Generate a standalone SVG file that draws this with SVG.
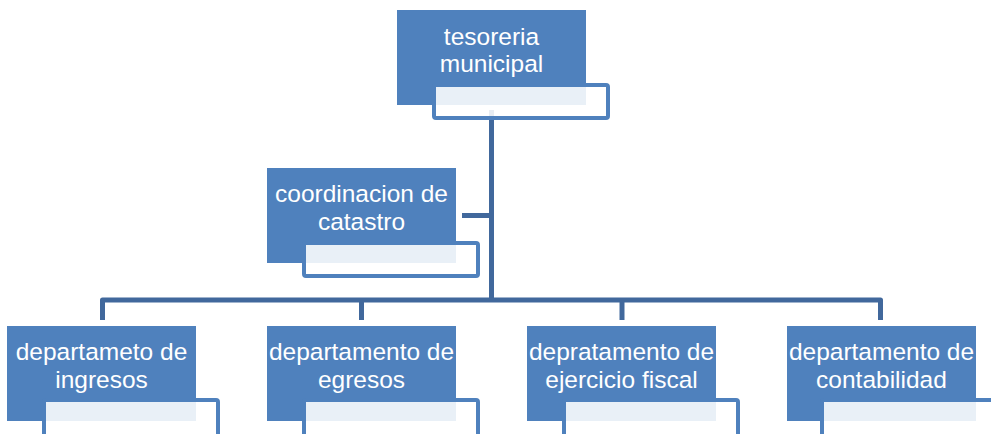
<svg xmlns="http://www.w3.org/2000/svg" width="991" height="434" viewBox="0 0 991 434">
<style>
.box{fill:#4F81BD}
.sub{fill:#FFFFFF;fill-opacity:0.88;stroke:#4F81BD;stroke-width:4}
.lbl{fill:#FFFFFF;font-family:"Liberation Sans",Arial,sans-serif;font-size:24.5px;text-anchor:middle}
.conn{fill:none;stroke:#41689C;stroke-width:5;stroke-linejoin:round}
</style>
<rect width="991" height="434" fill="#FFFFFF"/>
<g id="connectors">
<path class="conn" d="M491.5,110 V300"/>
<path class="conn" d="M462,215.5 H491.5"/>
<path class="conn" d="M102.5,320 V300 H880.5 V320"/>
<path class="conn" d="M361.5,300 V320"/>
<path class="conn" d="M622,300 V320"/>
</g>
<g id="node-tesoreria">
<rect class="box" x="397" y="10" width="189" height="95"/>
<rect class="sub" x="434" y="85" width="174" height="33" rx="2"/>
<text class="lbl" x="491.5" y="45">tesoreria</text>
<text class="lbl" x="491.5" y="72">municipal</text>
</g>
<g id="node-catastro">
<rect class="box" x="267" y="168" width="189" height="95"/>
<rect class="sub" x="304" y="243" width="174" height="33" rx="2"/>
<text class="lbl" x="361.5" y="202">coordinacion de</text>
<text class="lbl" x="361.5" y="230">catastro</text>
</g>
<g id="node-ingresos">
<rect class="box" x="7" y="326" width="189" height="95"/>
<rect class="sub" x="44" y="400" width="174" height="50" rx="2"/>
<text class="lbl" x="101.5" y="360">departameto de</text>
<text class="lbl" x="101.5" y="388">ingresos</text>
</g>
<g id="node-egresos">
<rect class="box" x="267" y="326" width="189" height="95"/>
<rect class="sub" x="304" y="400" width="174" height="50" rx="2"/>
<text class="lbl" x="361.5" y="360">departamento de</text>
<text class="lbl" x="361.5" y="388">egresos</text>
</g>
<g id="node-ejercicio">
<rect class="box" x="527" y="326" width="189" height="95"/>
<rect class="sub" x="564" y="400" width="174" height="50" rx="2"/>
<text class="lbl" x="621.5" y="360">depratamento de</text>
<text class="lbl" x="621.5" y="388">ejercicio fiscal</text>
</g>
<g id="node-contabilidad">
<rect class="box" x="787" y="326" width="189" height="95"/>
<rect class="sub" x="822" y="400" width="174" height="50" rx="2"/>
<text class="lbl" x="881.5" y="360">departamento de</text>
<text class="lbl" x="881.5" y="388">contabilidad</text>
</g>
</svg>
